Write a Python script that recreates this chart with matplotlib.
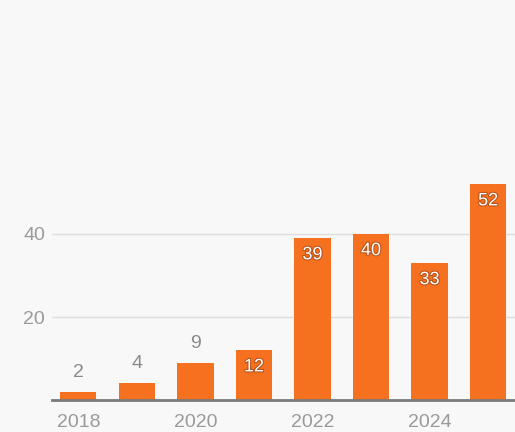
import matplotlib
matplotlib.use("Agg")
import matplotlib.pyplot as plt
import matplotlib.patheffects as pe

years = [2018, 2019, 2020, 2021, 2022, 2023, 2024, 2025]
values = [2, 4, 9, 12, 39, 40, 33, 52]
xtick_labels = ["2018", "2020", "2022", "2024"]
ytick_values = [20, 40]

W, H = 515, 432
fig = plt.figure(figsize=(W / 100, H / 100), dpi=100)
fig.patch.set_facecolor("#f8f8f8")

ax = fig.add_axes([52 / W, 32 / H, 463 / W, 400 / H])
ax.set_facecolor("none")

x = list(range(len(years)))
bars = ax.bar(x, values, width=0.62, color="#f5701f", zorder=3)

ax.set_xlim(-0.45, 7.46)
ax.set_ylim(0, 400 / 4.15)

for s in ["top", "right", "left"]:
    ax.spines[s].set_visible(False)
ax.spines["bottom"].set_color("#7a7a7a")
ax.spines["bottom"].set_linewidth(2)
ax.spines["bottom"].set_zorder(4)

ax.set_yticks(ytick_values)
ax.set_yticklabels([str(v) for v in ytick_values])
ax.yaxis.grid(True, color="#dedede", linewidth=1, zorder=0)
ax.tick_params(axis="y", length=0, pad=5, labelsize=14, labelcolor="#9a9a9a")

tick_pos = [years.index(int(t)) for t in xtick_labels]
ax.set_xticks(tick_pos)
ax.set_xticklabels(xtick_labels)
ax.tick_params(axis="x", length=0, pad=10, labelsize=14, labelcolor="#9a9a9a")

for lab in ax.get_xticklabels() + ax.get_yticklabels():
    lab.set_fontfamily("Liberation Sans")

for xi, v in zip(x, values):
    if v < 10:
        ax.annotate(str(v), (xi, v), xytext=(0, 14), textcoords="offset points",
                    ha="center", va="center", fontsize=14, color="#8a8a8a",
                    family="Liberation Sans", zorder=5)
    else:
        ax.annotate(str(v), (xi, v), xytext=(0, -12), textcoords="offset points",
                    ha="center", va="center", fontsize=13, color="white",
                    family="Liberation Sans", zorder=5,
                    path_effects=[pe.withStroke(linewidth=1.5, foreground="#b5521a")])

fig.savefig("out.png", dpi=100, facecolor=fig.get_facecolor())
